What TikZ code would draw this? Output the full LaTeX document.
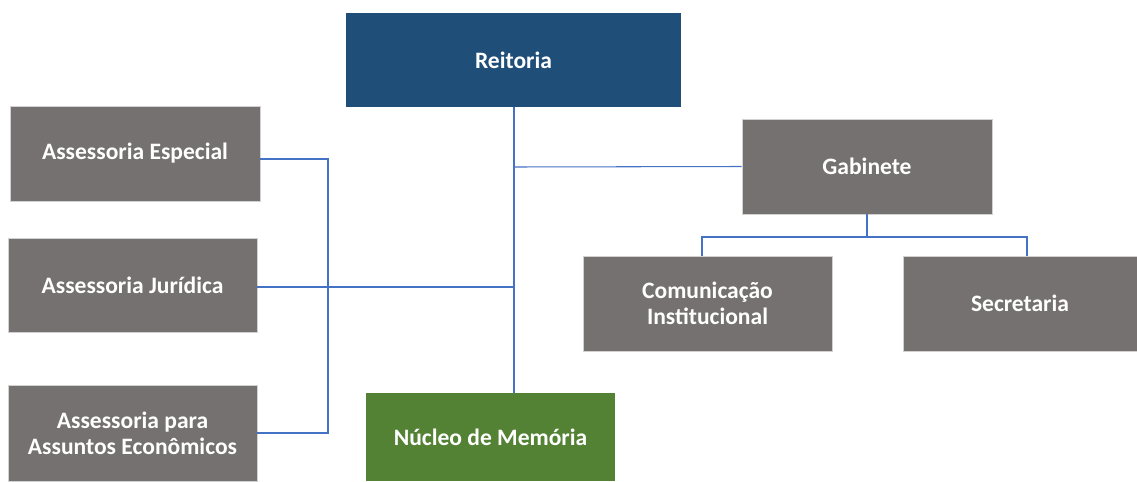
\documentclass[tikz,border=0pt]{standalone}
\usepackage{fontspec}
\setmainfont{Carlito}
\usetikzlibrary{positioning,calc}
\definecolor{reitblue}{HTML}{1F4E79}
\definecolor{unitgray}{HTML}{767171}
\definecolor{memgreen}{HTML}{548235}
\definecolor{linkblue}{HTML}{4472C4}

\begin{document}
\begin{tikzpicture}

% Styles
\tikzset{
    unit/.style={rectangle, draw=gray!35, fill=unitgray, text=white, align=center,
        font=\fontsize{13.4}{14.7}\selectfont\bfseries, minimum width=4.98cm, minimum height=1.9cm, inner sep=2pt},
    topunit/.style={unit, draw=none, fill=reitblue, minimum width=6.7cm, minimum height=1.88cm},
    memunit/.style={unit, draw=none, fill=memgreen, minimum height=1.76cm},
    link/.style={-, draw=linkblue, line width=0.6pt}
}

\useasboundingbox (0,0) rectangle (22.74,-9.64);

% Top
\node[topunit] (reitoria) at (10.27, -1.20) {Reitoria};

% Assessorias
\node[unit, minimum width=5cm] (especial) at (2.70, -3.07) {Assessoria Especial};
\node[unit, minimum height=1.88cm] (juridica) at (2.65, -5.70) {Assessoria Jurídica};
\node[unit, minimum height=1.92cm] (economicos) at (2.65, -8.66) {Assessoria para\\Assuntos Econômicos};

% Memoria
\node[memunit] (nucleo) at (9.81, -8.74) {Núcleo de Memória};

% Gabinete
\node[unit, minimum width=5cm] (gabinete) at (17.34, -3.33) {Gabinete};
\node[unit] (comunicacao) at (14.15, -6.07) {Comunicação\\Institucional};
\node[unit, minimum width=4.68cm] (secretaria) at (20.40, -6.07) {Secretaria};

% Junctions
\coordinate (hub) at (10.28, -5.74);
\coordinate (gabjoin) at (10.28, -3.34);
\coordinate (leftbus) at (6.56, -3.18);
\coordinate (split) at (17.34, -4.74);

% Connectors
\draw[link] (reitoria.south -| hub) -- (hub);
\draw[link] (hub) -- (hub -| juridica.east);
\draw[link] (hub) -- (hub |- nucleo.north);
\draw[link] (gabjoin) -- (gabinete.west);
\draw[link] (leftbus -| especial.east) -- (leftbus) -- (leftbus |- economicos.east) -- (economicos.east);
\draw[link] (gabinete) -- (split);
\draw[link] ([xshift=-0.11cm]comunicacao.north) |- (split) -| ([xshift=0.14cm]secretaria.north);

\end{tikzpicture}
\end{document}
